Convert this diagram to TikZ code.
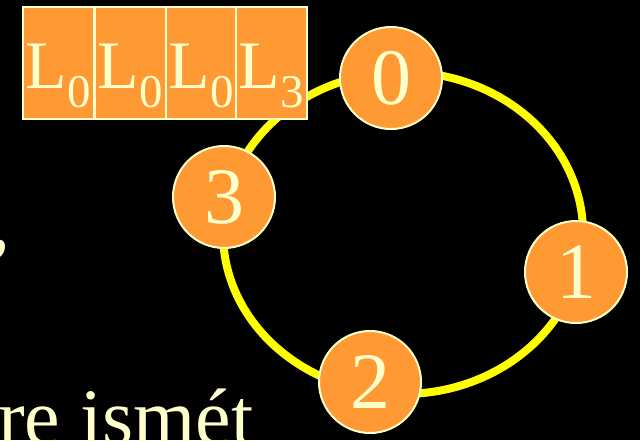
\documentclass[tikz,border=0pt]{standalone}
\usepackage{fontspec}
\setmainfont{Liberation Serif}
\definecolor{bg}{HTML}{000000}
\definecolor{ring}{HTML}{FFFF00}
\definecolor{orng}{HTML}{FF9933}
\definecolor{cream}{HTML}{FFFFCC}
\begin{document}
\begin{tikzpicture}[x=1pt,y=-1pt,
  ringline/.style={draw=ring,line width=8pt},
  proc/.style={circle,fill=orng,draw=cream,line width=2pt,minimum size=102pt,inner sep=0pt,
    text=cream,font=\fontsize{80}{90}\selectfont},
  slot/.style={rectangle,fill=orng,draw=cream,line width=2pt,minimum width=71pt,inner sep=0pt,
    text height=81pt,text depth=31pt,text=cream,font=\fontsize{68}{72}\selectfont},
  bigtext/.style={text=cream,inner sep=0pt,font=\fontsize{80}{90}\selectfont}]
\fill[bg] (0,0) rectangle (640,440);
\useasboundingbox (0,0) rectangle (640,440);
\clip (0,0) rectangle (640,440);
% ring
\coordinate (rc) at (403,233);
\draw[ringline] (rc) ellipse [x radius=180, y radius=161];
% processes
\node[proc] (p0) at (391,78) {0};
\node[proc] (p1) at (576,272) {1};
\node[proc] (p2) at (370,382) {2};
\node[proc] (p3) at (224,197) {3};
% slots
\newcommand{\lsub}[1]{L\raisebox{-19pt}{\fontsize{47}{50}\selectfont #1}}
\node[slot] (s1) at (58,63) {\lsub{0}};
\node[slot] (s2) at (130,63) {\lsub{0}};
\node[slot] (s3) at (201.5,63) {\lsub{0}};
\node[slot] (s4) at (271.5,63) {\lsub{3}};
% text fragments
\node[bigtext,anchor=base west] (t1) at (-2,444) {re ismét};
\node[bigtext,anchor=base west] (t2) at (-10,248) {,};
\end{tikzpicture}
\end{document}
